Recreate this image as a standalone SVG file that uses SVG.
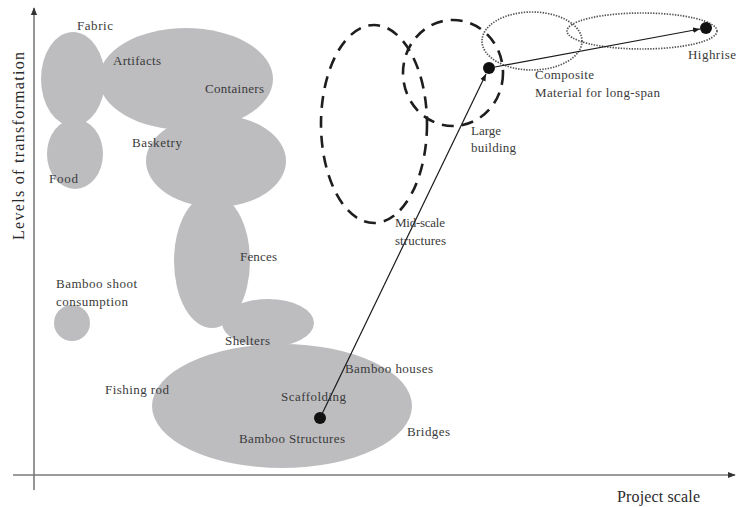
<svg xmlns="http://www.w3.org/2000/svg" width="736" height="507" viewBox="0 0 736 507">
  <style>
    .blob { fill: #bdbdc0; stroke: none; }
    .lbl { font-family: "Liberation Serif", "Times New Roman", serif; font-size: 13px; fill: #3a3a3a; }
    .axlbl { font-family: "Liberation Serif", "Times New Roman", serif; font-size: 16px; fill: #2a2a2a; }
    .axis { stroke: #7a7a7a; stroke-width: 1.6; fill: none; }
    .dash { fill: none; stroke: #1e1e1e; stroke-width: 2.6; stroke-dasharray: 12 8; }
    .dot { fill: none; stroke: #555; stroke-width: 1.7; stroke-dasharray: 1.4 1.3; }
    .link { stroke: #1a1a1a; stroke-width: 1.2; fill: none; marker-end: url(#arrow); }
    .pt { fill: #111; }
  </style>
  <defs>
    <marker id="arrow" viewBox="0 0 10 10" refX="10" refY="5" markerWidth="7" markerHeight="7" orient="auto" markerUnits="userSpaceOnUse">
      <path d="M0,1 L10,5 L0,9 z" fill="#1a1a1a"/>
    </marker>
    <marker id="axhead" viewBox="0 0 10 10" refX="9" refY="5" markerWidth="8" markerHeight="8" orient="auto" markerUnits="userSpaceOnUse">
      <path d="M0,1 L10,5 L0,9 z" fill="#333"/>
    </marker>
  </defs>

  <rect width="736" height="507" fill="#ffffff"/>

  <!-- axes -->
  <g id="axes">
    <line class="axis" x1="34" y1="490" x2="34" y2="8" marker-end="url(#axhead)"/>
    <line class="axis" x1="13" y1="475" x2="735" y2="475" marker-end="url(#axhead)"/>
    <text class="axlbl" x="617" y="502" textLength="83" lengthAdjust="spacing">Project scale</text>
    <text class="axlbl" transform="translate(24,240) rotate(-90)" textLength="188" lengthAdjust="spacing">Levels of transformation</text>
  </g>

  <!-- grey application clusters -->
  <g id="small-scale-uses">
    <ellipse class="blob" cx="73" cy="79" rx="32" ry="47"/>
    <ellipse class="blob" cx="75" cy="154" rx="28" ry="35"/>
    <ellipse class="blob" cx="186" cy="79" rx="87" ry="51"/>
    <ellipse class="blob" cx="216" cy="161" rx="70" ry="46"/>
    <ellipse class="blob" cx="212" cy="261" rx="38" ry="67"/>
    <ellipse class="blob" cx="268" cy="323" rx="46" ry="24"/>
    <ellipse class="blob" cx="72" cy="323" rx="18" ry="18"/>
    <ellipse class="blob" cx="282" cy="406" rx="130" ry="62"/>
  </g>

  <!-- larger-scale structure zones -->
  <g id="mid-scale-zone">
    <ellipse class="dash" cx="374" cy="124" rx="53" ry="99"/>
  </g>
  <g id="large-building-zone">
    <ellipse class="dash" cx="453" cy="73" rx="50" ry="53"/>
  </g>
  <g id="composite-zone">
    <ellipse class="dot" cx="532" cy="41" rx="50" ry="29"/>
  </g>
  <g id="highrise-zone">
    <ellipse class="dot" cx="642" cy="31" rx="75" ry="18"/>
  </g>

  <!-- connectors -->
  <g id="connectors">
    <line class="link" x1="322" y1="414" x2="486" y2="74"/>
    <line class="link" x1="495" y1="67" x2="700" y2="29"/>
  </g>

  <!-- points -->
  <g id="bamboo-structures-point"><circle class="pt" cx="320" cy="418" r="6"/></g>
  <g id="large-building-point"><circle class="pt" cx="489" cy="68" r="6"/></g>
  <g id="highrise-point"><circle class="pt" cx="706" cy="28" r="6"/></g>

  <!-- labels -->
  <g id="labels">
    <text class="lbl" x="77" y="30" textLength="36" lengthAdjust="spacing">Fabric</text>
    <text class="lbl" x="113" y="65" textLength="48" lengthAdjust="spacing">Artifacts</text>
    <text class="lbl" x="205" y="93" textLength="59" lengthAdjust="spacing">Containers</text>
    <text class="lbl" x="132" y="147" textLength="50" lengthAdjust="spacing">Basketry</text>
    <text class="lbl" x="49" y="183" textLength="29" lengthAdjust="spacing">Food</text>
    <text class="lbl" x="240" y="261" textLength="37" lengthAdjust="spacing">Fences</text>
    <text class="lbl" x="56" y="288" textLength="81" lengthAdjust="spacing">Bamboo shoot</text>
    <text class="lbl" x="56" y="306" textLength="72" lengthAdjust="spacing">consumption</text>
    <text class="lbl" x="225" y="345" textLength="45" lengthAdjust="spacing">Shelters</text>
    <text class="lbl" x="345" y="373" textLength="88" lengthAdjust="spacing">Bamboo houses</text>
    <text class="lbl" x="105" y="394" textLength="64" lengthAdjust="spacing">Fishing rod</text>
    <text class="lbl" x="281" y="401" textLength="65" lengthAdjust="spacing">Scaffolding</text>
    <text class="lbl" x="239" y="443" textLength="106" lengthAdjust="spacing">Bamboo Structures</text>
    <text class="lbl" x="407" y="436" textLength="43" lengthAdjust="spacing">Bridges</text>
    <text class="lbl" x="395" y="227" textLength="50" lengthAdjust="spacing">Mid-scale</text>
    <text class="lbl" x="395" y="245" textLength="51" lengthAdjust="spacing">structures</text>
    <text class="lbl" x="471" y="135" textLength="30" lengthAdjust="spacing">Large</text>
    <text class="lbl" x="471" y="152" textLength="45" lengthAdjust="spacing">building</text>
    <text class="lbl" x="535" y="79" textLength="59" lengthAdjust="spacing">Composite</text>
    <text class="lbl" x="535" y="97" textLength="125" lengthAdjust="spacing">Material for long-span</text>
    <text class="lbl" x="688" y="59" textLength="48" lengthAdjust="spacing">Highrise</text>
  </g>
</svg>
